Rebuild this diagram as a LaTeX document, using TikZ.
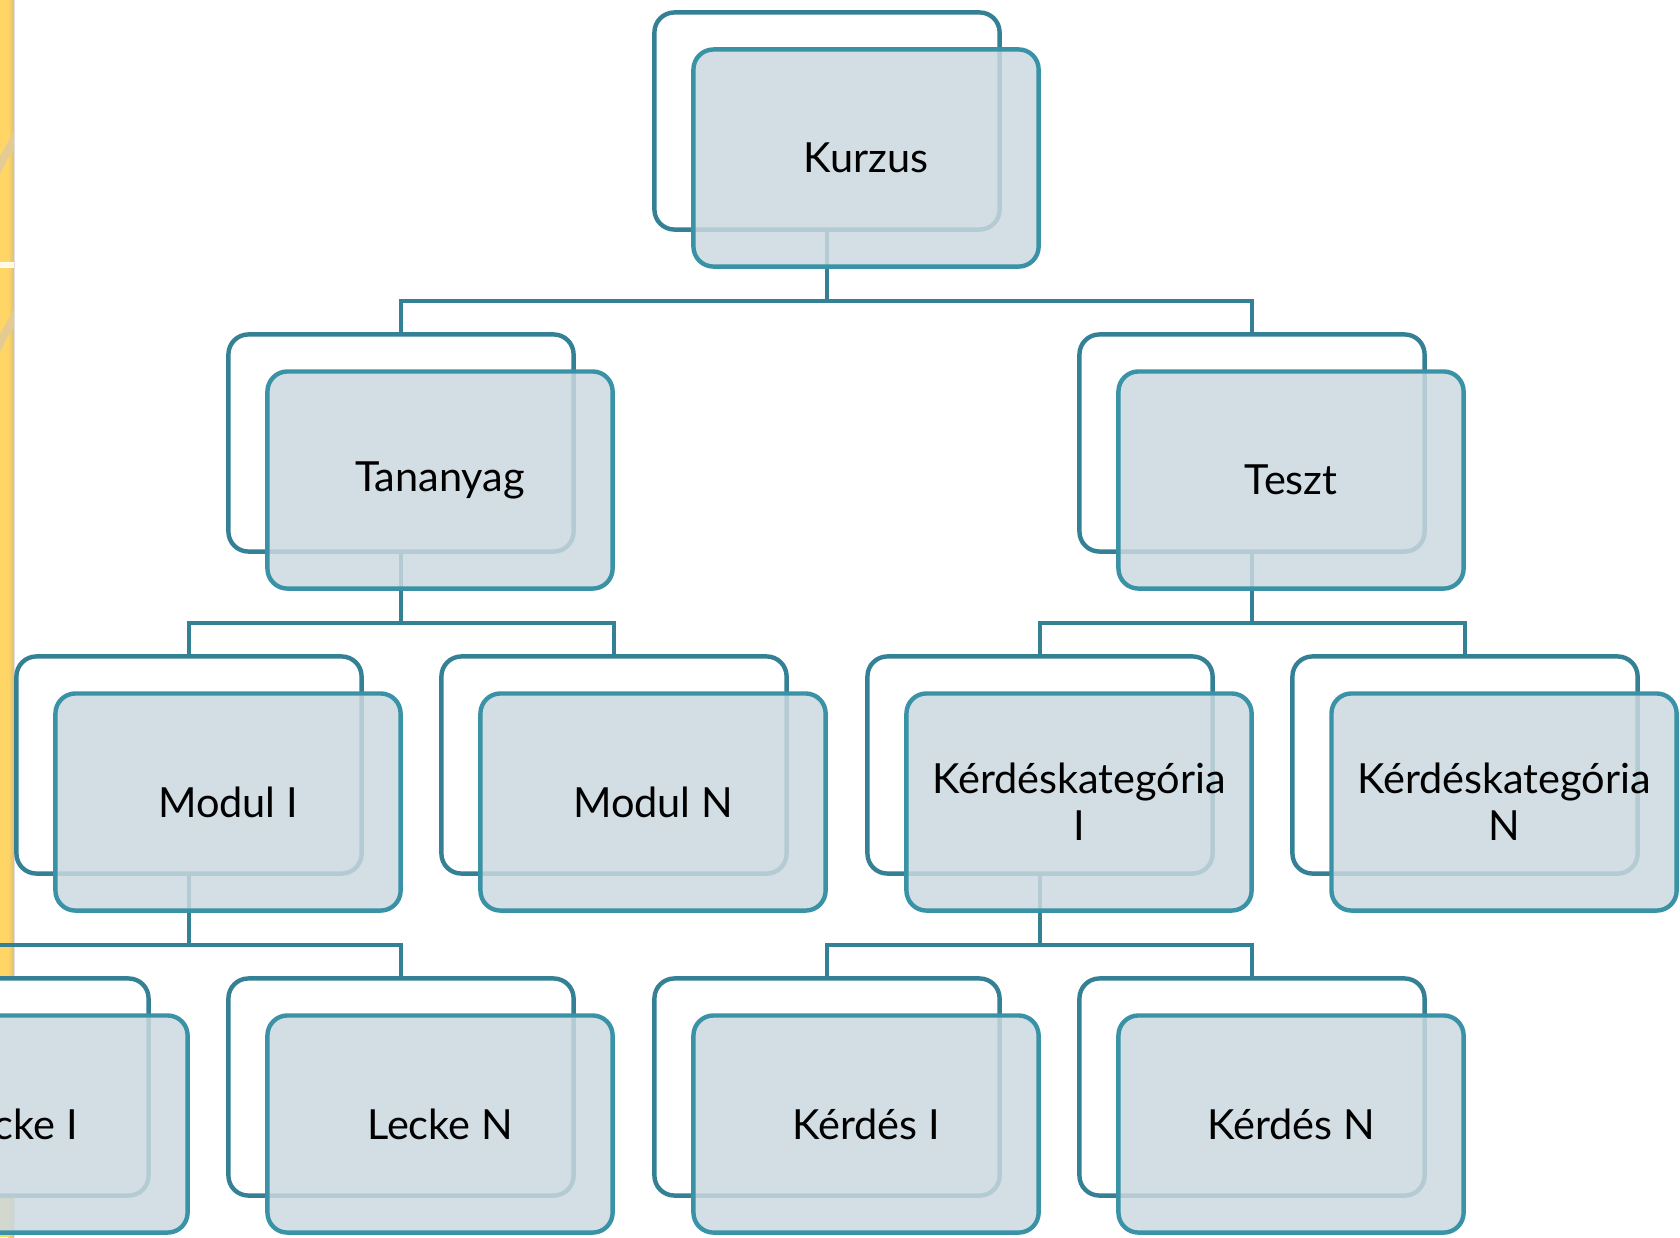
\documentclass[tikz,border=0pt]{standalone}
\usepackage{fontspec}
\setmainfont{Lato}
\usetikzlibrary{positioning}
\definecolor{boxteal}{RGB}{58,146,166}
\definecolor{backteal}{RGB}{52,128,148}
\definecolor{boxfill}{RGB}{203,217,224}
\definecolor{stripeyellow}{RGB}{255,214,102}
\definecolor{stripetan}{RGB}{222,190,120}
\tikzset{
  backbox/.style={draw=backteal, fill=white, line width=0.044cm, rounded corners=0.2cm,
    minimum width=3.45cm, minimum height=2.17cm},
  frontbox/.style={draw=boxteal, fill=boxfill, fill opacity=0.85, text opacity=1,
    line width=0.044cm, rounded corners=0.2cm, minimum width=3.45cm, minimum height=2.17cm,
    xshift=0.39cm, yshift=-0.37cm, align=center, font=\fontsize{11.8}{13.3}\selectfont},
  link/.style={draw=backteal, line width=0.044cm},
}

\begin{document}
\begin{tikzpicture}[x=0.01cm, y=-0.01cm]
  \useasboundingbox (0,0) rectangle (1680,1237);
  \clip (0,0) rectangle (1680,1237);

  % yellow stripe on the left
  \fill[stripeyellow] (0,0) rectangle (14,1237);
  \shade[left color=stripeyellow, right color=stripetan] (8,0) rectangle (14,1237);
  \fill[black!12] (14,0) rectangle (15,1237);
  \fill[stripetan!80!white] (14,132) .. controls (8,142) .. (0,156) -- (0,174) .. controls (8,158) .. (14,150) -- cycle;
  \fill[white!85!stripeyellow] (0,262) rectangle (14,268);
  \fill[stripetan!80!white] (14,309) .. controls (8,320) .. (0,334) -- (0,352) .. controls (8,336) .. (14,327) -- cycle;

  % back boxes
  \node[backbox] (kurzusB) at (827,121) {};
  \node[backbox] (tananyagB) at (401,443) {};
  \node[backbox] (tesztB) at (1252,443) {};
  \node[backbox] (modul1B) at (189,765) {};
  \node[backbox] (modulnB) at (614,765) {};
  \node[backbox] (kkat1B) at (1040,765) {};
  \node[backbox] (kkatnB) at (1465,765) {};
  \node[backbox] (lecke1B) at (-24,1087) {};
  \node[backbox] (leckenB) at (401,1087) {};
  \node[backbox] (kerdes1B) at (827,1087) {};
  \node[backbox] (kerdesnB) at (1252,1087) {};

  % connectors
  \draw[link] (kurzusB.south) -- ++(0,69) -| (tananyagB.north);
  \draw[link] (kurzusB.south) -- ++(0,69) -| (tesztB.north);
  \draw[link] (tananyagB.south) -- ++(0,69) -| (modul1B.north);
  \draw[link] (tananyagB.south) -- ++(0,69) -| (modulnB.north);
  \draw[link] (tesztB.south) -- ++(0,69) -| (kkat1B.north);
  \draw[link] (tesztB.south) -- ++(0,69) -| (kkatnB.north);
  \draw[link] (modul1B.south) -- ++(0,69) -| (lecke1B.north);
  \draw[link] (modul1B.south) -- ++(0,69) -| (leckenB.north);
  \draw[link] (kkat1B.south) -- ++(0,69) -| (kerdes1B.north);
  \draw[link] (kkat1B.south) -- ++(0,69) -| (kerdesnB.north);

  % front boxes
  \node[frontbox] (kurzus) at (kurzusB) {Kurzus};
  \node[frontbox] (tananyag) at (tananyagB) {Tananyag};
  \node[frontbox] (teszt) at (tesztB) {Teszt};
  \node[frontbox] (modul1) at (modul1B) {Modul I};
  \node[frontbox] (moduln) at (modulnB) {Modul N};
  \node[frontbox] (kkat1) at (kkat1B) {Kérdéskategória\\I};
  \node[frontbox] (kkatn) at (kkatnB) {Kérdéskategória\\N};
  \node[frontbox] (lecke1) at (lecke1B) {Lecke I};
  \node[frontbox] (lecken) at (leckenB) {Lecke N};
  \node[frontbox] (kerdes1) at (kerdes1B) {Kérdés I};
  \node[frontbox] (kerdesn) at (kerdesnB) {Kérdés N};
\end{tikzpicture}
\end{document}
